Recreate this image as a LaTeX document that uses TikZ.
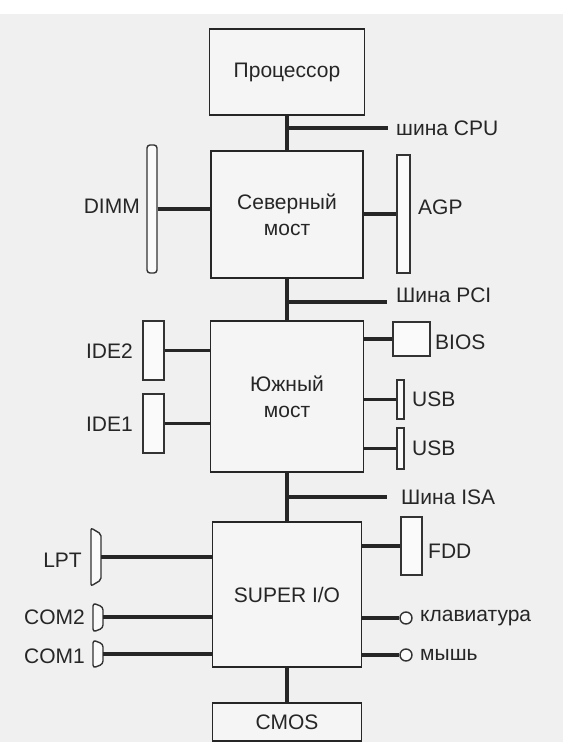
\documentclass[tikz,border=0pt]{standalone}
\usepackage{fontspec}
\setmainfont{Liberation Sans}
\begin{document}
\begin{tikzpicture}[x=1pt, y=-1pt,
    block/.style={draw=black!85, line width=1.8pt, fill=black!4, inner sep=0pt,
        align=center, text=black!85, font=\fontsize{21}{26}\selectfont},
    slot/.style={draw=black!80, line width=1.4pt, fill=black!2, inner sep=0pt},
    bus/.style={line width=3.5pt, black!85},
    lbl/.style={text=black!85, inner sep=2pt, font=\fontsize{21}{23}\selectfont},
    port/.style={circle, draw=black!80, line width=1.4pt, fill=black!2,
        minimum size=12pt, inner sep=0pt}]
    % Фон
    \fill[black!6] (0,0) rectangle (563,742);
    \fill[white] (0,0) rectangle (563,14);

    % Основные блоки
    \node[block, minimum width=155pt, minimum height=86pt] (cpu) at (287,72) {Процессор};
    \node[block, minimum width=152pt, minimum height=127pt] (nb) at (287,214.5) {Северный\\мост};
    \node[block, minimum width=153pt, minimum height=151pt] (sb) at (287,396.5) {Южный\\мост};
    \node[block, minimum width=149pt, minimum height=145pt] (sio) at (287,594.5) {SUPER I/O};
    \node[block, minimum width=149pt, minimum height=38pt] (cmos) at (287,722) {CMOS};

    % Шины между блоками
    \draw[bus] (cpu.south) -- (nb.north);
    \draw[bus] (nb.south) -- (sb.north);
    \draw[bus] (sb.south) -- (sio.north);
    \draw[bus] (sio.south) -- (cmos.north);

    % Отводы шин и подписи
    \coordinate (cpubus) at (388,128);
    \coordinate (pcibus) at (387,302);
    \coordinate (isabus) at (387,497);
    \draw[bus] (cpubus -| cpu.south) -- (cpubus);
    \draw[bus] (pcibus -| nb.south) -- (pcibus);
    \draw[bus] (isabus -| sb.south) -- (isabus);
    \node[lbl, anchor=west] (cpulbl) at (394,128) {шина CPU};
    \node[lbl, anchor=west] (pcilbl) at (394,295) {Шина PCI};
    \node[lbl, anchor=west] (isalbl) at (399,497) {Шина ISA};

    % Северный мост: DIMM и AGP
    \node[slot, rounded corners=3pt, minimum width=10pt, minimum height=128pt] (dimm) at (152,209) {};
    \node[slot, minimum width=13pt, minimum height=118pt] (agp) at (403.5,214) {};
    \draw[bus] (dimm.east) -- (dimm.east -| nb.west);
    \draw[bus] (agp.west -| nb.east) -- (agp.west);
    \node[lbl, anchor=east] (dimmlbl) at (142,206) {DIMM};
    \node[lbl, anchor=west] (agplbl) at (416,207) {AGP};

    % Южный мост: IDE, BIOS, USB
    \node[slot, minimum width=21pt, minimum height=59pt] (ide2) at (153.5,350.5) {};
    \node[slot, minimum width=21pt, minimum height=59pt] (ide1) at (153.5,423.5) {};
    \node[slot, minimum width=37pt, minimum height=34pt] (bios) at (411.5,339) {};
    \node[slot, minimum width=7pt, minimum height=39pt] (usba) at (400.5,399.5) {};
    \node[slot, minimum width=7pt, minimum height=41pt] (usbb) at (400.5,448.5) {};
    \draw[bus] (ide2.east) -- (ide2.east -| sb.west);
    \draw[bus] (ide1.east) -- (ide1.east -| sb.west);
    \draw[bus] (bios.west -| sb.east) -- (bios.west);
    \draw[bus] (usba.west -| sb.east) -- (usba.west);
    \draw[bus] (usbb.west -| sb.east) -- (usbb.west);
    \node[lbl, anchor=east] (ide2lbl) at (135,351) {IDE2};
    \node[lbl, anchor=east] (ide1lbl) at (135,424) {IDE1};
    \node[lbl, anchor=west] (bioslbl) at (433,342) {BIOS};
    \node[lbl, anchor=west] (usbalbl) at (410,399) {USB};
    \node[lbl, anchor=west] (usbblbl) at (410,448) {USB};

    % SUPER I/O: FDD, LPT, COM, клавиатура, мышь
    \node[slot, minimum width=21pt, minimum height=58pt] (fdd) at (411.5,546) {};
    \draw[bus] (fdd.west -| sio.east) -- (fdd.west);
    \node[lbl, anchor=west] (fddlbl) at (426,551) {FDD};

    \draw[slot, rounded corners=2pt] (101,534) -- (91,528) -- (91,586) -- (101,580) -- cycle;
    \draw[slot, rounded corners=3pt] (103,607) -- (93,603) -- (93,632) -- (103,628) -- cycle;
    \draw[slot, rounded corners=3pt] (103,644) -- (93,640) -- (93,668) -- (103,664) -- cycle;
    \coordinate (lpt) at (101,557);
    \coordinate (comb) at (103,617);
    \coordinate (coma) at (103,654);
    \draw[bus] (lpt) -- (lpt -| sio.west);
    \draw[bus] (comb) -- (comb -| sio.west);
    \draw[bus] (coma) -- (coma -| sio.west);
    \node[lbl, anchor=east] (lptlbl) at (84,560) {LPT};
    \node[lbl, anchor=east] (comblbl) at (87,617) {COM2};
    \node[lbl, anchor=east] (comalbl) at (87,656) {COM1};

    \node[port] (kbd) at (406,618) {};
    \node[port] (mouse) at (406,655) {};
    \draw[bus] (kbd.west -| sio.east) -- (kbd.west);
    \draw[bus] (mouse.west -| sio.east) -- (mouse.west);
    \node[lbl, anchor=west] (kbdlbl) at (418,618) {клавиатура};
    \node[lbl, anchor=west] (mouselbl) at (418,655) {мышь};
\end{tikzpicture}
\end{document}
